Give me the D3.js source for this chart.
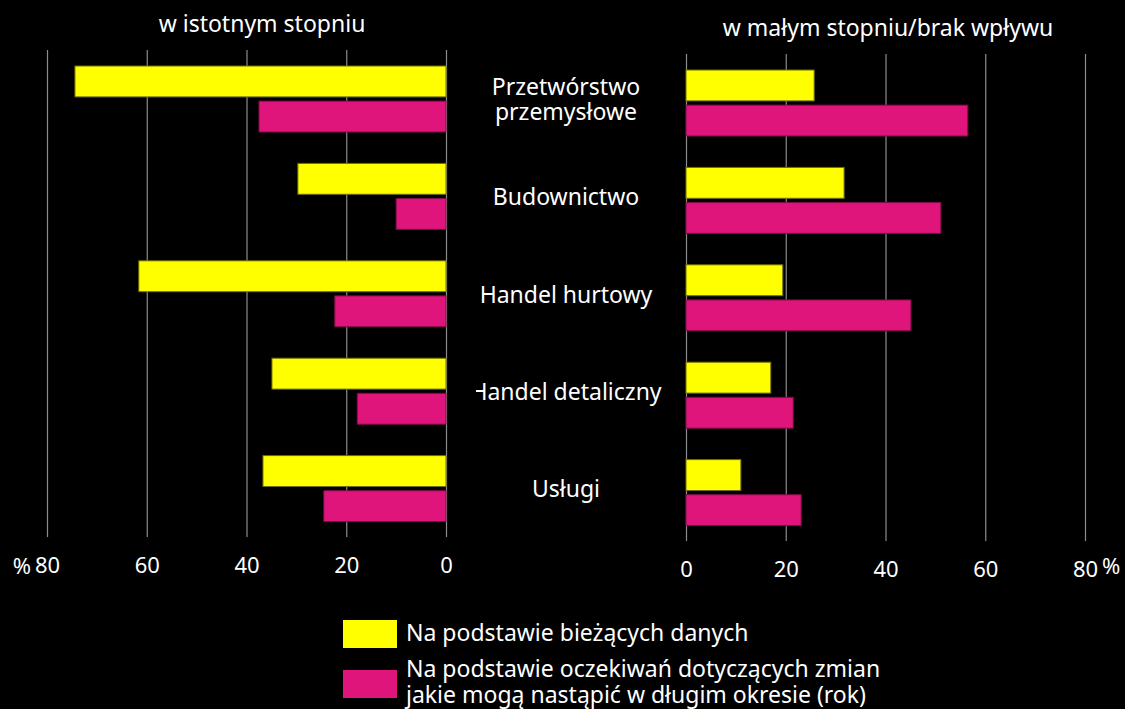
<!DOCTYPE html>
<html>
<head>
<meta charset="utf-8">
<script src="https://cdn.jsdelivr.net/npm/d3@7"></script>
<style>
  body { margin: 0; background: #000; }
  svg text { font-family: "Noto Sans", sans-serif; fill: #fff; }
</style>
</head>
<body>
<svg id="chart" width="1125" height="709"></svg>
<script>
// categories (top to bottom)
var categories = ["Przetwórstwo przemysłowe", "Budownictwo", "Handel hurtowy", "Handel detaliczny", "Usługi"];
var categoryLines = [["Przetwórstwo", "przemysłowe"], ["Budownictwo"], ["Handel hurtowy"], ["Handel detaliczny"], ["Usługi"]];
var series = ["Na podstawie bieżących danych", "Na podstawie oczekiwań dotyczących zmian jakie mogą nastąpić w długim okresie (rok)"];

// w istotnym stopniu
var strongCurrent  = [74.4, 29.7, 61.6, 34.9, 36.7];
var strongExpected = [37.5, 10.0, 22.3, 17.8, 24.5];
// w małym stopniu / brak wpływu
var weakCurrent  = [25.7, 31.7, 19.4, 17.0, 11.0];
var weakExpected = [56.5, 51.1, 45.1, 21.5, 23.1];

var tickValues = [0, 20, 40, 60, 80];

var colors = ["#ffff00", "#df157c"];
var strokes = ["#6e6e00", "#7d0c46"];

var svg = d3.select("#chart");

var xLeft = d3.scaleLinear().domain([0, 80]).range([446, 47]);
var xRight = d3.scaleLinear().domain([0, 80]).range([686, 1085]);

function panel(x, top, values, title, titleX, titleY) {
    var bottom = top + 487;
    var y = d3.scaleBand().domain(categories).range([top, bottom]);
    var inner = d3.scaleBand().domain([0, 1]).range([16, 82]).paddingInner(0.12);
    var g = svg.append("g");

    // grid + tick labels
    var axis = d3.axisBottom(x).tickValues(tickValues).tickSize(-(bottom - top)).tickPadding(20);
    var ax = g.append("g").attr("transform", "translate(0," + bottom + ")").call(axis);
    ax.select(".domain").remove();
    ax.selectAll(".tick line").attr("stroke", "#8c8c8c").attr("stroke-width", 1.2);
    ax.selectAll(".tick text").attr("font-size", 22).attr("fill", "#fff")
        .style("font-family", "'Noto Sans', sans-serif");

    values.forEach(function(vals, si) {
        g.selectAll(".bar" + si).data(vals).enter().append("rect")
            .attr("x", function(d) { return Math.min(x(0), x(d)); })
            .attr("width", function(d) { return Math.abs(x(d) - x(0)); })
            .attr("y", function(d, i) { return y(categories[i]) + inner(si); })
            .attr("height", inner.bandwidth())
            .attr("fill", colors[si])
            .attr("stroke", strokes[si])
            .attr("stroke-width", 1);
    });

    g.append("text").attr("x", titleX).attr("y", titleY)
        .attr("text-anchor", "middle").attr("font-size", 23).text(title);
    return y;
}

var yL = panel(xLeft, 50, [strongCurrent, strongExpected], "w istotnym stopniu", 262, 32);
panel(xRight, 54, [weakCurrent, weakExpected], "w małym stopniu/brak wpływu", 888, 36);

// % signs at the axis ends
svg.append("text").attr("x", 31).attr("y", 574).attr("text-anchor", "end").attr("font-size", 22).text("%");
svg.append("text").attr("x", 1102).attr("y", 574).attr("text-anchor", "start").attr("font-size", 22).text("%");

// category labels in the middle (clipped at the left like the original)
svg.append("clipPath").attr("id", "labclip").append("rect")
    .attr("x", 476).attr("y", 0).attr("width", 210).attr("height", 709);
var labels = svg.append("g").attr("clip-path", "url(#labclip)");
categoryLines.forEach(function(lines, i) {
    var cy = yL(categories[i]) + yL.bandwidth() / 2 + 1;
    var t = labels.append("text").attr("x", 566).attr("text-anchor", "middle").attr("font-size", 23);
    lines.forEach(function(line, j) {
        t.append("tspan").attr("x", 566)
            .attr("y", cy + 8 + (j - (lines.length - 1) / 2) * 25)
            .text(line);
    });
});

// legend
var legend = svg.append("g");
var legendLines = [["Na podstawie bieżących danych"], ["Na podstawie oczekiwań dotyczących zmian", "jakie mogą nastąpić w długim okresie (rok)"]];
var legendY = [620, 670];
legendLines.forEach(function(lines, i) {
    legend.append("rect").attr("x", 343).attr("y", legendY[i]).attr("width", 54).attr("height", 28)
        .attr("fill", colors[i]);
    var t = legend.append("text").attr("font-size", 23);
    lines.forEach(function(line, j) {
        t.append("tspan").attr("x", 406).attr("y", (i == 0 ? 641 : 677) + j * 26).text(line);
    });
});
</script>
</body>
</html>
